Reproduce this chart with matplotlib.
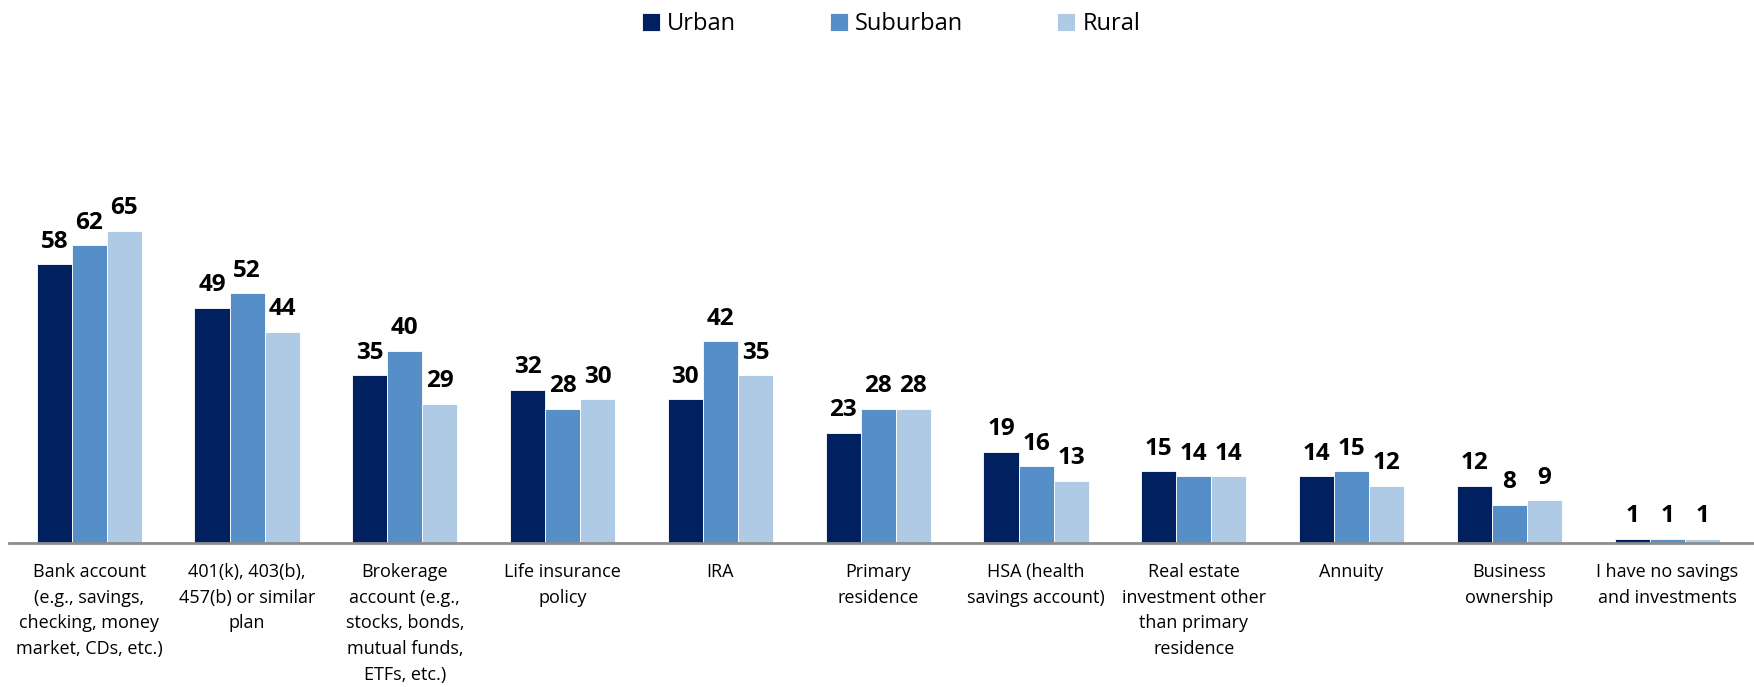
import numpy as np
import matplotlib.pyplot as plt

# categories and values (%)
categories = [
    'Bank account\n(e.g., savings,\nchecking, money\nmarket, CDs, etc.)',
    '401(k), 403(b),\n457(b) or similar\nplan',
    'Brokerage\naccount (e.g.,\nstocks, bonds,\nmutual funds,\nETFs, etc.)',
    'Life insurance\npolicy',
    'IRA',
    'Primary\nresidence',
    'HSA (health\nsavings account)',
    'Real estate\ninvestment other\nthan primary\nresidence',
    'Annuity',
    'Business\nownership',
    'I have no savings\nand investments',
]
urban = [58, 49, 35, 32, 30, 23, 19, 15, 14, 12, 1]
suburban = [62, 52, 40, 28, 42, 28, 16, 14, 15, 8, 1]
rural = [65, 44, 29, 30, 35, 28, 13, 14, 12, 9, 1]

series_names = ['Urban', 'Suburban', 'Rural']
colors = ['#00205F', '#568FC7', '#AFCAE5']

plt.rcParams['font.family'] = ['Open Sans', 'DejaVu Sans']

fig = plt.figure(figsize=(17.54, 6.87), dpi=100)
ax = fig.add_axes([0.005, 0.209, 0.995, 0.56])

x = np.arange(len(categories))
w = 0.222
for k, (vals, name, c) in enumerate(zip([urban, suburban, rural], series_names, colors)):
    bars = ax.bar(x + (k - 1) * w, vals, width=w, color=c, label=name,
                  edgecolor='white', linewidth=0.6)
    for b, v in zip(bars, vals):
        ax.text(b.get_x() + b.get_width() / 2, v + 2.2, str(v),
                ha='center', va='bottom', fontsize=17.5, fontweight='bold', color='black')

ax.set_xlim(-0.51, 10.55)
ax.set_ylim(0, 80)
ax.set_yticks([])
ax.set_xticks(x)
ax.set_xticklabels(categories, fontsize=13, linespacing=1.55, va='top')
ax.tick_params(axis='x', length=0, pad=14)
for s in ['top', 'right', 'left']:
    ax.spines[s].set_visible(False)
ax.spines['bottom'].set_color('#8C8C8C')
ax.spines['bottom'].set_linewidth(2)

fig.legend(loc='upper center', bbox_to_anchor=(0.508, 1.013), ncol=3, frameon=False,
           fontsize=17, handlelength=0.75, handleheight=0.75, handletextpad=0.3,
           columnspacing=4.0)

fig.savefig('out.png', dpi=100, facecolor='white')
